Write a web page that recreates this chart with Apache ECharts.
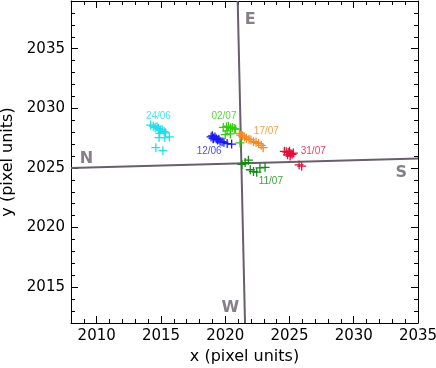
<!DOCTYPE html>
<html>
<head>
<meta charset="utf-8">
<script src="https://cdn.jsdelivr.net/npm/echarts@6/dist/echarts.min.js"></script>
<style>
  html, body { margin: 0; padding: 0; background: #fff; }
  #chart { width: 436px; height: 368px; }
</style>
</head>
<body>
<div id="chart"></div>
<script>
// axis ranges and tick labels
const xRange = [2008, 2035]
const yRange = [2012, 2039]
const xTicks = [2010, 2015, 2020, 2025, 2030, 2035]
const yTicks = [2015, 2020, 2025, 2030, 2035]

// reference lines (N-S and E-W)
const lineNS = [[2008, 2025.0], [2035, 2025.8]]
const lineEW = [[2020.97, 2039], [2021.54, 2012]]
const compass = [
  { name: 'N', value: [2009.2, 2025.8] },
  { name: 'S', value: [2033.7, 2024.6] },
  { name: 'E', value: [2021.95, 2037.45] },
  { name: 'W', value: [2020.4, 2013.25] }
]

// positions per date
const d2406 = [[2014.2, 2028.6], [2014.4, 2028.5], [2014.55, 2028.4], [2014.7, 2028.45], [2014.8, 2028.3],
  [2014.95, 2028.2], [2015.1, 2028.2], [2015.25, 2028.05], [2015.35, 2027.95], [2014.9, 2027.9],
  [2014.85, 2027.55], [2015.3, 2027.55], [2015.65, 2027.6], [2014.6, 2026.7], [2015.15, 2026.45]]
const d1206 = [[2018.9, 2027.6], [2019.0, 2027.7], [2019.1, 2027.5], [2019.2, 2027.6], [2019.3, 2027.45],
  [2019.4, 2027.35], [2019.5, 2027.4], [2019.6, 2027.25], [2019.75, 2027.2], [2019.9, 2027.15],
  [2020.15, 2027.05], [2020.5, 2027.0], [2019.05, 2027.45]]
const d0207 = [[2019.85, 2028.4], [2020.1, 2028.45], [2020.25, 2028.5], [2020.4, 2028.35], [2020.55, 2028.4],
  [2020.7, 2028.3], [2020.8, 2028.25], [2020.15, 2028.1], [2020.4, 2027.85], [2020.0, 2027.8], [2021.15, 2027.1]]
const d1707 = [[2021.1, 2027.9], [2021.2, 2027.75], [2021.35, 2027.7], [2021.5, 2027.6], [2021.65, 2027.5],
  [2021.85, 2027.4], [2022.0, 2027.35], [2022.2, 2027.2], [2022.4, 2027.15], [2022.6, 2027.05],
  [2022.8, 2026.9], [2022.95, 2026.7]]
const d3107 = [[2024.6, 2026.4], [2024.75, 2026.35], [2024.9, 2026.3], [2025.0, 2026.4], [2025.1, 2026.2],
  [2025.2, 2026.15], [2024.85, 2026.1], [2025.05, 2026.0], [2025.3, 2026.25], [2025.75, 2025.25], [2025.95, 2025.15]]
const d1107 = [[2021.3, 2025.3], [2021.55, 2025.45], [2021.8, 2025.65], [2021.95, 2024.85], [2022.2, 2024.7],
  [2022.45, 2024.65], [2022.7, 2025.0], [2023.1, 2025.05]]

// date labels: text and where they sit
const dateLabels = [
  { name: '24/06', value: [2014.8, 2029.3], color: '#22dde8' },
  { name: '12/06', value: [2018.75, 2026.4], color: '#1a1aee' },
  { name: '02/07', value: [2019.9, 2029.3], color: '#33cc11' },
  { name: '17/07', value: [2023.2, 2028.1], color: '#f08a22' },
  { name: '31/07', value: [2026.85, 2026.4], color: '#e0103a' },
  { name: '11/07', value: [2023.55, 2023.9], color: '#118811' }
]

const plus = 'path://M-0.14,-1H0.14V-0.14H1V0.14H0.14V1H-0.14V0.14H-1V-0.14H-0.14Z'
const gray = '#675f6b'
const font = 'DejaVu Sans, sans-serif'

const chart = echarts.init(document.getElementById('chart'))

// builds one axis layer; minor axes carry every unit, major axes carry only the labelled ticks
const makeAxis = (pos, range, ticks, major, withLabels) => {
  const a = {
    type: 'value',
    position: pos,
    min: range[0],
    max: range[1],
    splitLine: { show: false },
    axisLine: { show: !major, onZero: false, lineStyle: { color: '#000', width: 1 } },
    axisTick: { show: true, inside: true, length: major ? 7 : 4, lineStyle: { color: '#000' } },
    axisLabel: { show: false }
  }
  if (major) {
    a.axisTick.customValues = ticks
  } else {
    a.interval = 1
  }
  if (withLabels) {
    a.axisLabel = {
      show: true,
      customValues: ticks,
      formatter: v => String(v),
      color: '#000',
      fontSize: 15,
      fontFamily: font,
      margin: 6
    }
  }
  return a
}

const xAxes = [
  makeAxis('bottom', xRange, xTicks, false, true),
  makeAxis('bottom', xRange, xTicks, true, false),
  makeAxis('top', xRange, xTicks, false, false),
  makeAxis('top', xRange, xTicks, true, false)
]
Object.assign(xAxes[0], {
  name: 'x (pixel units)', nameLocation: 'middle', nameGap: 25,
  nameTextStyle: { color: '#000', fontSize: 16, fontFamily: font }
})

const yAxes = [
  makeAxis('left', yRange, yTicks, false, true),
  makeAxis('left', yRange, yTicks, true, false),
  makeAxis('right', yRange, yTicks, false, false),
  makeAxis('right', yRange, yTicks, true, false)
]
Object.assign(yAxes[0], {
  name: 'y (pixel units)', nameLocation: 'middle', nameGap: 50,
  nameTextStyle: { color: '#000', fontSize: 16, fontFamily: font }
})

const pointSeries = (data, color) => ({
  type: 'scatter',
  data: data,
  symbol: plus,
  symbolSize: 9,
  itemStyle: { color: color, opacity: 1 },
  z: 3
})

const option = {
  animation: false,
  grid: { left: 71, right: 18, top: 1, bottom: 45, outerBoundsMode: 'none' },
  xAxis: xAxes,
  yAxis: yAxes,
  series: [
    { type: 'line', data: lineNS, symbol: 'none', lineStyle: { color: gray, width: 2 }, z: 2 },
    { type: 'line', data: lineEW, symbol: 'none', lineStyle: { color: gray, width: 2 }, z: 2 },
    pointSeries(d2406, '#22dde8'),
    pointSeries(d1206, '#1a1aee'),
    pointSeries(d0207, '#33cc11'),
    pointSeries(d1707, '#f08a22'),
    pointSeries(d3107, '#e0103a'),
    pointSeries(d1107, '#118811'),
    {
      type: 'scatter',
      data: compass,
      symbolSize: 0,
      label: {
        show: true, position: 'inside', formatter: '{b}',
        color: gray, fontSize: 16, fontWeight: 'bold', fontFamily: font
      },
      z: 4
    },
    {
      type: 'scatter',
      data: dateLabels.map(d => ({ name: d.name, value: d.value, label: { color: d.color } })),
      symbolSize: 0,
      label: { show: true, position: 'inside', formatter: '{b}', fontSize: 10, fontFamily: 'Liberation Sans, sans-serif' },
      z: 4
    }
  ]
}

chart.setOption(option)
</script>
</body>
</html>
